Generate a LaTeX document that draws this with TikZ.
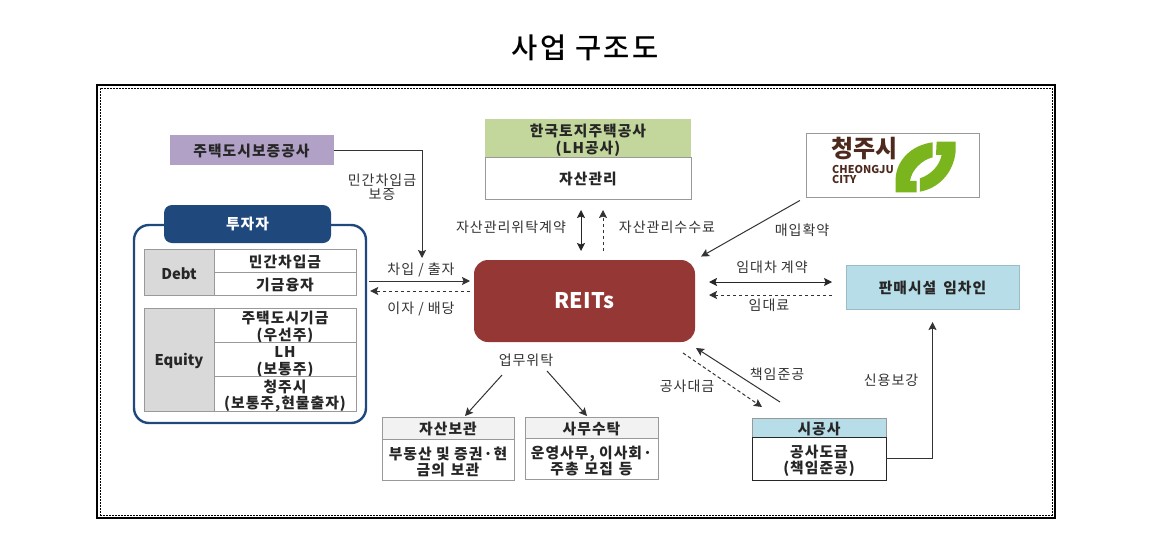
\documentclass[tikz,border=0pt]{standalone}
\usepackage{fontspec}
\setmainfont[LetterSpace=7]{Noto Sans CJK KR}
\newfontfamily\titlefont[LetterSpace=8]{Noto Sans CJK KR Medium}
\newfontfamily\latinfont{Noto Sans CJK KR}
\usepackage{xcolor}
\usetikzlibrary{arrows.meta, positioning}
\definecolor{navy}{HTML}{1F497D}
\definecolor{wine}{HTML}{953735}
\definecolor{lilac}{HTML}{B2A1C7}
\definecolor{leaf}{HTML}{C3D69B}
\definecolor{sky}{HTML}{B7DDE8}
\definecolor{edge}{HTML}{999999}
\definecolor{cellgray}{HTML}{D9D9D9}
\definecolor{headgray}{HTML}{F2F2F2}
\definecolor{logogreen}{HTML}{7AB51D}
\definecolor{logobrown}{HTML}{4E2A1E}
\tikzset{
	box/.style={draw=edge, line width=0.9pt, inner sep=0pt, outer sep=0pt, align=center, font=\fontsize{14.8}{16.5}\selectfont\bfseries, text=black!85, execute at begin node={\lineskiplimit=-20pt\rule{0pt}{15pt}}},
	boxtwo/.style={box, inner ysep=-6pt, execute at begin node={\rule{0pt}{34pt}}},
	lab/.style={inner sep=0pt, align=center, font=\fontsize{14}{14.5}\selectfont, text=black!80},
	link/.style={->, line width=1pt, black!80},
	twoway/.style={<->, line width=1pt, black!85},
	back/.style={->, line width=1pt, black!80, dash pattern=on 3.5pt off 2.5pt}
}

\begin{document}
\begin{tikzpicture}[>={Stealth[length=8pt, width=8pt, inset=1.5pt]}, x=1pt, y=-1pt]
	\useasboundingbox (0,0) rectangle (1153,533);
	\fill[white] (0,0) rectangle (1153,533);
	\node at (585,48) (title) [inner sep=0pt, font=\fontsize{28.5}{30}\titlefont] {사업 구조도};
	\node at (576,301.5) (frame) [draw, line width=1.8pt, minimum width=958pt, minimum height=433pt] {};
	\node at (576,301.5) (inframe) [draw, line width=0.7pt, dash pattern=on 2pt off 1pt, minimum width=952pt, minimum height=427pt] {};

	\node at (251.5,150) (guar) [box, draw=none, fill=lilac, minimum width=164pt, minimum height=30pt] {주택도시보증공사};

	\node at (250,324) (invest) [draw=navy, line width=2.4pt, rounded corners=15pt, minimum width=232pt, minimum height=198pt] {};
	\node at (247.5,224) (invhead) [fill=navy, rounded corners=8pt, text=white, inner sep=0pt, font=\fontsize{14.8}{16}\selectfont\bfseries, minimum width=167pt, minimum height=38pt] {투자자};
	\node at (179,272) (debt) [box, fill=cellgray, minimum width=70pt, minimum height=46pt] {\latinfont\bfseries Debt};
	\node at (285,260.5) (loan) [box, minimum width=142pt, minimum height=23pt] {민간차입금};
	\node at (285,283.5) (fund) [box, minimum width=142pt, minimum height=23pt] {기금융자};
	\node at (179,359.5) (equity) [box, fill=cellgray, minimum width=70pt, minimum height=103pt] {\latinfont\bfseries Equity};
	\node at (285,325) (pref) [boxtwo, minimum width=142pt, minimum height=34pt] {주택도시기금\\(우선주)};
	\node at (285,359) (lhshare) [boxtwo, minimum width=142pt, minimum height=34pt] {LH\\(보통주)};
	\node at (285,393.5) (cityshare) [boxtwo, minimum width=142pt, minimum height=35pt] {청주시\\(보통주,현물출자)};

	\node at (588,138) (lhhead) [boxtwo, draw=none, fill=leaf, minimum width=206pt, minimum height=38pt] {한국토지주택공사\\(LH공사)};
	\node at (588,178) (lhbody) [box, minimum width=206pt, minimum height=42pt] {자산관리};
	\node at (584.5,301) (reits) [fill=wine, rounded corners=14pt, text=white, inner sep=0pt, outer sep=0pt, font=\fontsize{21.5}{24}\latinfont\bfseries, minimum width=221pt, minimum height=82pt] {REITs};

	\node at (892.5,165) (city) [box, minimum width=173pt, minimum height=64pt] {};
	\node at (864.5,149) (cityname) [inner sep=0pt, text=logobrown, font=\fontsize{24}{26}\latinfont\bfseries] {청주시};
	\node at (832,169) (cityen) [anchor=west, inner sep=0pt, text=logobrown, font=\fontsize{10.8}{12}\latinfont\bfseries] {CHEONGJU};
	\node at (832,179) (citytwo) [anchor=west, inner sep=0pt, text=logobrown, font=\fontsize{10.8}{12}\latinfont\bfseries] {CITY};
	\begin{scope}[shift={(690,110)}, x=0.3333pt, y=-0.3333pt]
		\fill[logogreen] (728,97) .. controls (665,105) and (620,150) .. (617,205) -- (617,247) -- (680,247) -- (680,213) -- (660,213) .. controls (665,180) and (695,150) .. (728,142) -- cycle;
		\fill[logogreen] (740,95) -- (797,95) -- (797,125) .. controls (790,190) and (745,235) .. (690,245) -- (690,205) .. controls (720,195) and (748,170) .. (755,135) -- (738,135) -- cycle;
	\end{scope}

	\node at (932.5,287) (tenant) [box, fill=sky, draw=sky!85!black, minimum width=173pt, minimum height=44pt] {판매시설\hspace{7pt}임차인};

	\node at (448,428) (storehead) [box, fill=headgray, minimum width=132pt, minimum height=22pt] {자산보관};
	\node at (448,459.5) (storebody) [boxtwo, minimum width=132pt, minimum height=41pt] {부동산 및 증권·현\\금의\hspace{6pt}보관};
	\node at (591.5,427.5) (officehead) [box, fill=headgray, minimum width=133pt, minimum height=21pt] {사무수탁};
	\node at (591.5,458.5) (officebody) [boxtwo, minimum width=133pt, minimum height=41pt] {운영사무, 이사회·\\주총\hspace{6pt}모집\hspace{6pt}등};
	\node at (819,427.5) (conhead) [box, fill=sky, minimum width=134pt, minimum height=19pt] {시공사};
	\node at (819,458.5) (conbody) [boxtwo, draw=black!85, minimum width=134pt, minimum height=43pt] {공사도급\\(책임준공)};

	\node at (382,187) (guarlab) [lab] {민간차입금\\보증};
	\node at (421,270) (inlab) [lab] {차입 / 출자};
	\node at (421,309) (outlab) [lab] {이자 / 배당};
	\node at (511,227) (mandlab) [lab] {자산관리위탁계약};
	\node at (667,227) (feelab) [lab] {자산관리수수료};
	\node at (802,230) (buylab) [lab] {매입확약};
	\node at (772,267) (leaselab) [lab] {임대차 계약};
	\node at (769,305) (rentlab) [lab] {임대료};
	\node at (526,360) (work) [lab] {업무위탁};
	\node at (777,374) (donelab) [lab] {책임준공};
	\node at (687,386) (paylab) [lab] {공사대금};
	\node at (891,380) (creditlab) [lab] {신용보강};

	\draw[link] (guar.east) -| ([xshift=-52pt,yshift=2pt]reits.north west);
	\draw[link] ([xshift=2pt,yshift=43pt]invest.east) -- ([xshift=-4pt,yshift=20pt]reits.west);
	\draw[back] ([xshift=-4pt,yshift=10pt]reits.west) -- ([xshift=3pt,yshift=33pt]invest.east);
	\draw[twoway] ([xshift=-7pt,yshift=-11pt]lhbody.south) -- ([xshift=-3.5pt,yshift=9pt]reits.north);
	\draw[back] ([xshift=18.5pt,yshift=9pt]reits.north) -- ([xshift=15pt,yshift=-11pt]lhbody.south);
	\draw[link, shorten <=7pt, shorten >=7pt] (city.south west) -- (reits.north east);
	\draw[twoway] ([xshift=14pt,yshift=19pt]reits.east) -- ([xshift=-14pt,yshift=5pt]tenant.west);
	\draw[back] ([xshift=-14pt,yshift=-8pt]tenant.west) -- ([xshift=14pt,yshift=6pt]reits.east);
	\draw[link] ([xshift=-24pt,yshift=-15pt]work.center) -- ([xshift=17pt,yshift=1pt]storehead.north);
	\draw[link] ([xshift=21pt,yshift=-11pt]work.center) -- ([xshift=-4.5pt,yshift=1pt]officehead.north);
	\draw[link] ([xshift=-39pt,yshift=16pt]conhead.north) -- ([xshift=1pt,yshift=-6pt]reits.south east);
	\draw[back] ([xshift=-12pt,yshift=-11pt]reits.south east) -- ([xshift=-57pt,yshift=11pt]conhead.north);
	\draw[link] (conbody.east) -| ([yshift=-13pt]tenant.south);
\end{tikzpicture}
\end{document}
